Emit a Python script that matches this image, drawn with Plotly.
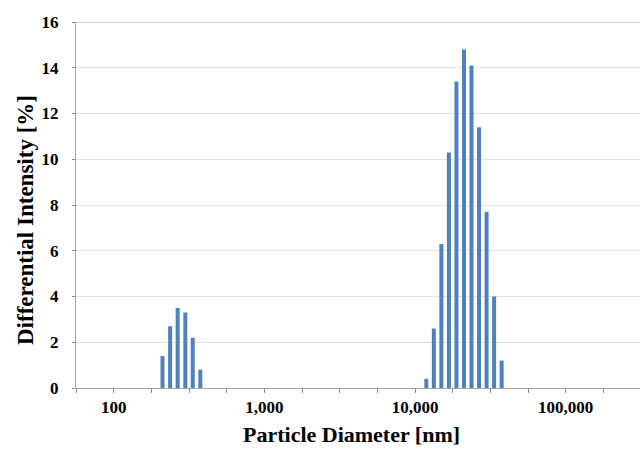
import plotly.graph_objects as go

# Particle size distribution (DLS), differential intensity per size bin
diam_small = [211, 237, 266, 299, 335, 376]
int_small = [1.4, 2.7, 3.5, 3.3, 2.2, 0.8]

diam_large = [11885, 13335, 14962, 16788, 18836, 21135, 23714, 26607, 29854, 33497, 37584]
int_large = [0.4, 2.6, 6.3, 10.3, 13.4, 14.8, 14.1, 11.4, 7.7, 4.0, 1.2]

# axis ticks: minor marks every quarter decade, labels on decades
tick_exps = [1.75 + 0.25 * k for k in range(16)]
decade_labels = {2.0: "100", 3.0: "1,000", 4.0: "10,000", 5.0: "100,000"}

X_TITLE = "Particle Diameter [nm]"
Y_TITLE = "Differential Intensity [%]"

BAR_COLOR = "#4F81BD"
FONT = "Liberation Serif"
REL_WIDTH = 0.061  # bar width as a fraction of its diameter (constant on log scale)

diameters = diam_small + diam_large
intensities = int_small + int_large

fig = go.Figure()
fig.add_trace(go.Bar(
    x=diameters,
    y=intensities,
    width=[d * REL_WIDTH for d in diameters],
    marker=dict(color=BAR_COLOR, line=dict(width=0)),
    showlegend=False,
))

fig.update_layout(
    width=640,
    height=449,
    margin=dict(l=76, r=0, t=22, b=61),
    paper_bgcolor="white",
    plot_bgcolor="white",
    font=dict(family=FONT, size=17, color="black"),
    shapes=[dict(type="line", xref="paper", yref="y", x0=0, x1=1, y0=16, y1=16,
                 line=dict(color="#A6A6A6", width=1))],
    annotations=[
        # axis titles, placed relative to the chart area
        dict(text=f"<b>{X_TITLE}</b>", xref="paper", yref="paper", x=0.489, y=-0.126,
             xanchor="center", yanchor="middle", showarrow=False, borderpad=0,
             font=dict(family=FONT, size=22, color="black")),
        dict(text=f"<b>{Y_TITLE}</b>", xref="paper", yref="paper", x=-0.0904, y=0.459,
             xanchor="center", yanchor="middle", showarrow=False, textangle=-90, borderpad=0,
             font=dict(family=FONT, size=23, color="black")),
    ],
)

fig.update_xaxes(
    type="log",
    range=[1.75, 5.493],
    tickmode="array",
    tickvals=[10 ** e for e in tick_exps],
    ticktext=[decade_labels.get(round(e, 2), "") for e in tick_exps],
    ticks="outside",
    ticklen=4,
    tickcolor="#868686",
    showline=True,
    linecolor="#A6A6A6",
    linewidth=1,
    showgrid=False,
    zeroline=False,
    tickfont=dict(family=FONT, size=17, color="black", weight="bold"),
)

fig.update_yaxes(
    range=[0, 16],
    dtick=2,
    ticks="outside",
    ticklen=3,
    tickcolor="#868686",
    showline=True,
    linecolor="#A6A6A6",
    linewidth=1,
    showgrid=True,
    gridcolor="#E3E3E3",
    gridwidth=1,
    zeroline=False,
    ticklabelstandoff=10,
    tickfont=dict(family=FONT, size=17, color="black", weight="bold"),
)

fig.write_html("out.html")
